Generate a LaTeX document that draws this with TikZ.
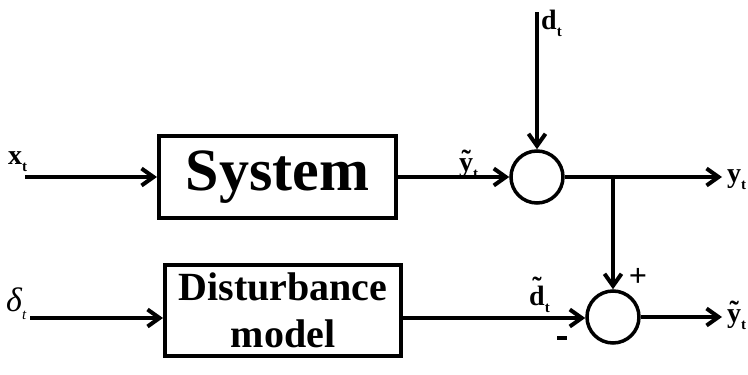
\documentclass[tikz,border=0pt]{standalone}
\usepackage{fontspec}
\setmainfont{Liberation Serif}
\usetikzlibrary{arrows.meta}
\newcommand\tld[2]{\ooalign{#1\cr\hidewidth\raisebox{#2}{\char"02DC}\hidewidth\cr}}
\newcommand\sbt{\raisebox{-0.25em}{\fontsize{15}{15}\selectfont t}}
\tikzset{
  wire/.style={line width=4pt, -{Straight Barb[length=12pt,width=17pt]}},
  blockbox/.style={draw, line width=4pt, rectangle, inner sep=0pt, font=\bfseries},
  sumnode/.style={draw, line width=3.5pt, circle, minimum size=52pt, inner sep=0pt},
  lbl/.style={anchor=base west, inner sep=0pt, font=\fontsize{28}{28}\selectfont\bfseries},
}
\begin{document}
\begin{tikzpicture}[x=1pt,y=-1pt]
\path[use as bounding box] (0,0) rectangle (748,375);
% blocks
\node[blockbox, minimum width=237pt, minimum height=82pt, font=\fontsize{60}{60}\selectfont\bfseries] (sys) at (277.5,177) {System};
\node[blockbox, minimum width=236pt, minimum height=91pt, align=center, font=\fontsize{40}{47}\selectfont\bfseries] (dist) at (283,310.5) {Disturbance\\model};
\node[sumnode] (s1) at (537,177) {};
\node[sumnode] (s2) at (613,317) {};
% coordinates
\coordinate (xin) at (25,177);
\coordinate (din) at (537,12);
\coordinate (yout) at (722,177);
\coordinate (br) at (613,177);
\coordinate (dlin) at (30,318);
\coordinate (yout2) at (722,317);
% connectors
\draw[wire] (xin) -- (sys.west |- xin);
\draw[wire] (sys.east |- xin) -- (s1.west);
\draw[wire] (din) -- (s1.north);
\draw[wire] (s1.east) -- (yout);
\draw[wire] (br) -- (s2.north);
\draw[wire] (dlin) -- (dist.west |- dlin);
\draw[wire] (dist.east |- dlin) -- (s2.west |- dlin);
\draw[wire] (s2.east) -- (yout2);
% labels
\node[lbl] (lx) at (8,164) {x\sbt};
\node[lbl, font=\fontsize{34}{34}\selectfont\itshape] (ldelta) at (6,311) {δ\sbt};
\node[lbl] (ld) at (541,29) {d\sbt};
\node[lbl] (lyt1) at (459,171) {\tld{y}{0.06em}\sbt};
\node[lbl] (ly) at (727,182) {y\sbt};
\node[lbl] (ldt) at (529,305) {\tld{d}{0.3em}\sbt};
\node[lbl] (lyt2) at (727,322) {\tld{y}{0.06em}\sbt};
\node[font=\fontsize{32}{32}\selectfont\bfseries, inner sep=0pt] (plus) at (638,277) {+};
\node[inner sep=0pt] (minus) at (562,338) {\rule{10pt}{4pt}};
\end{tikzpicture}
\end{document}
